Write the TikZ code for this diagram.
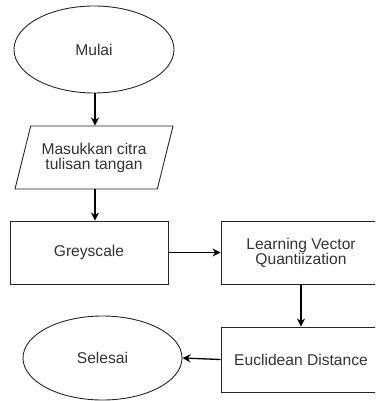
\documentclass[tikz,border=0pt]{standalone}
\usepackage{fontspec}
\setmainfont{Liberation Sans}
\usetikzlibrary{shapes.geometric,arrows.meta}

\begin{document}
\begin{tikzpicture}[x=1pt,y=-1pt,
  terminal/.style={ellipse,draw=black!85,line width=0.9pt,text=black!80,inner sep=0pt},
  iobox/.style={trapezium,trapezium left angle=62,trapezium right angle=118,trapezium stretches body,
    draw=black!85,line width=0.9pt,text=black!80,align=center,inner sep=0pt,minimum height=63pt},
  procbox/.style={rectangle,draw=black!85,line width=0.9pt,text=black!80,align=center,minimum width=158pt,minimum height=63pt},
  arr/.style={line width=1.3pt,-{Stealth[length=8pt,width=8pt]}}]
\useasboundingbox (0,0) rectangle (375,401);
\clip (0,0) rectangle (375,401);
\fontsize{15.6}{15}\selectfont
\node [terminal,minimum width=160pt,minimum height=87pt] (mulai) at (94,49.5) {Mulai};
\node [iobox,minimum width=158pt] (masukan) at (94,157.5) {Masukkan citra\\tulisan tangan};
\node [procbox] (greyscale) at (89,252.5) {Greyscale};
\node [procbox,minimum width=160pt] (lvq) at (301,252.5) {Learning Vector\\Quantiization};
\node [procbox,minimum width=160pt,minimum height=65pt] (euclid) at (301,359.5) {Euclidean Distance};
\node [terminal,minimum width=159pt,minimum height=84pt] (selesai) at (102.5,358) {Selesai};
  \draw [arr] (mulai.south -| 95,0) -- (95,0 |- masukan.north);
  \draw [arr] (masukan.south -| 95,0) -- (95,0 |- greyscale.north);
  \draw [arr] (greyscale.east) -- (lvq.west);
  \draw [arr] (lvq.south) -- (euclid.north);
  \draw [arr] (euclid.west) -- (selesai.east);
\end{tikzpicture}
\end{document}
